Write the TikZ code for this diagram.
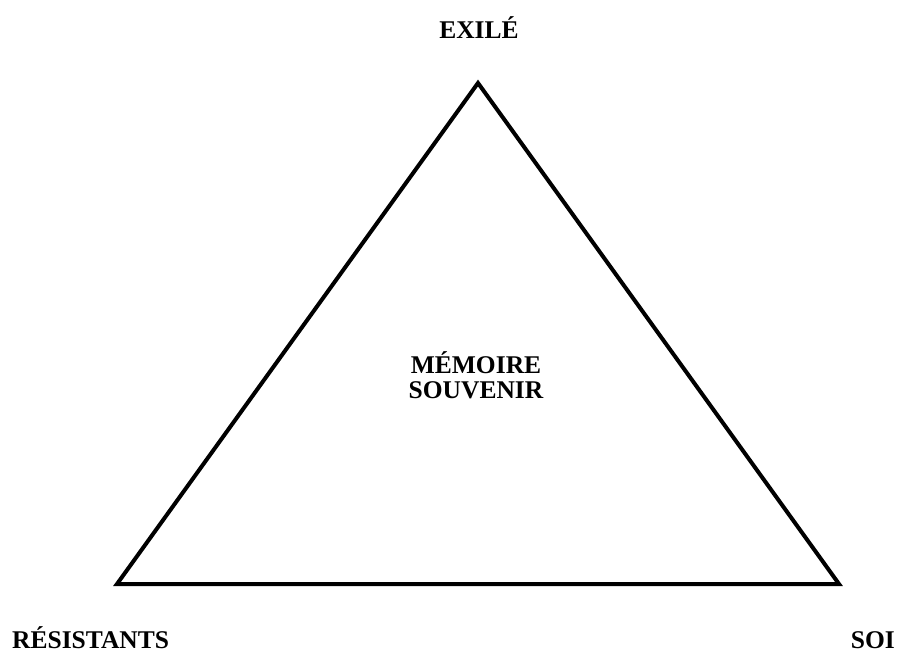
\documentclass[tikz,border=0pt]{standalone}
\usepackage{fontspec}
\setmainfont{Liberation Serif}
\tikzset{corner label/.style={font=\fontsize{25.5}{25}\selectfont\bfseries, inner sep=0pt},
         centre label/.style={corner label, align=center},
         side/.style={draw, line width=4pt, line join=miter}}

\begin{document}
\begin{tikzpicture}[x=1pt,y=-1pt]
\useasboundingbox (0,0) rectangle (898,653);
\coordinate (exile) at (478,83);
\coordinate (resistants) at (117,584);
\coordinate (soi) at (839,584);
\draw[side] (exile) -- (soi) -- (resistants) -- cycle;
\node[corner label, anchor=base] (exilelabel) at (479,38) {EXILÉ};
\node[corner label, anchor=base west] (resistantslabel) at (12,648) {RÉSISTANTS};
\node[corner label, anchor=base east] (soilabel) at (895,648) {SOI};
\node[centre label] (memoire) at (476,375) {MÉMOIRE\\SOUVENIR};
\end{tikzpicture}
\end{document}
